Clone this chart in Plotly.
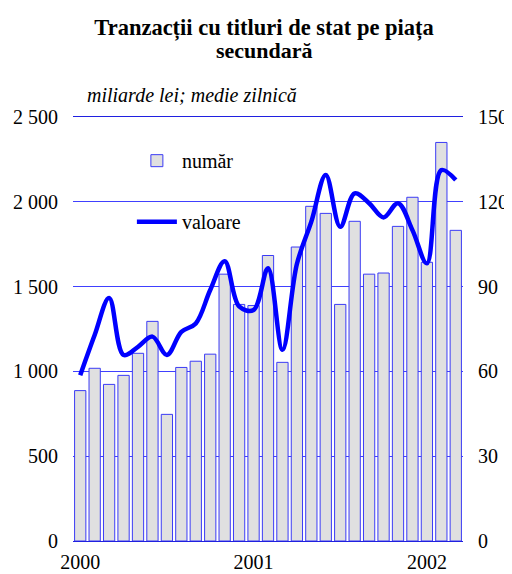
import plotly.graph_objects as go

# luni: ian 2000 - mar 2002
months = [
    "2000-01", "2000-02", "2000-03", "2000-04", "2000-05", "2000-06",
    "2000-07", "2000-08", "2000-09", "2000-10", "2000-11", "2000-12",
    "2001-01", "2001-02", "2001-03", "2001-04", "2001-05", "2001-06",
    "2001-07", "2001-08", "2001-09", "2001-10", "2001-11", "2001-12",
    "2002-01", "2002-02", "2002-03",
]

# numar tranzactii (axa dreapta)
numar = [
    53.2, 61.1, 55.4, 58.6, 66.4, 77.7, 44.8, 61.4, 63.6, 66.1, 94.4, 83.7,
    83.3, 101.0, 63.2, 104.0, 118.4, 115.9, 83.7, 113.1, 94.4, 94.8, 111.3, 121.6,
    98.6, 141.0, 109.9,
]

# valoare, miliarde lei; medie zilnica (axa stanga)
valoare = [
    978, 1215, 1433, 1097, 1145, 1205, 1097, 1233, 1283, 1480, 1650, 1383,
    1362, 1608, 1127, 1633, 1883, 2158, 1853, 2050, 1992, 1908, 1992, 1833,
    1637, 2187, 2128,
]

left_ticks = [0, 500, 1000, 1500, 2000, 2500]
left_labels = ["0", "500", "1 000", "1 500", "2 000", "2 500"]
right_ticks = [0, 30, 60, 90, 120, 150]
year_ticks = ["2000-01", "2001-01", "2002-01"]
year_labels = ["2000", "2001", "2002"]

FONT = "Liberation Serif, Times New Roman, serif"
GRID_BLUE = "#4040ff"

# the page body has an 8px margin, so the figure is 8px smaller
W, H = 504, 566

fig = go.Figure()

fig.add_trace(
    go.Bar(
        x=months,
        y=numar,
        name="număr",
        yaxis="y",
        marker=dict(
            color="#e2e2e2",
            line=dict(color="#3b3bf5", width=1),
            pattern=dict(shape=".", fgcolor="#b4b4b4", bgcolor="#ebebeb", size=2, solidity=0.45),
        ),
        legendgroup="a",
    )
)
fig.add_trace(
    go.Scatter(
        x=months,
        y=valoare,
        name="valoare",
        yaxis="y2",
        mode="lines",
        line=dict(color="#0000ff", width=4.5, shape="spline", smoothing=1),
        legendgroup="b",
    )
)

tick_font = dict(family=FONT, size=20, color="black")

fig.update_layout(
    width=W,
    height=H,
    margin=dict(l=65, r=49, t=109, b=33),
    paper_bgcolor="white",
    plot_bgcolor="white",
    font=dict(family=FONT, size=20, color="black"),
    bargap=0.22,
    showlegend=True,
    title=dict(
        text="<b>Tranzacții cu titluri de stat pe piața</b>",
        font=dict(family=FONT, size=22.5, color="black"),
        xref="paper",
        x=0.49,
        xanchor="center",
        yref="container",
        y=1 - 19 / H,
        yanchor="middle",
    ),
    xaxis=dict(
        type="category",
        range=[-0.5, 26.5],
        tickmode="array",
        tickvals=year_ticks,
        ticktext=year_labels,
        ticks="",
        showgrid=False,
        showline=True,
        mirror=True,
        linecolor="#2020e0",
        linewidth=1,
        ticklabelstandoff=3,
        tickfont=tick_font,
        automargin=False,
    ),
    yaxis=dict(
        side="right",
        range=[0, 150],
        tickmode="array",
        tickvals=right_ticks,
        showgrid=True,
        gridcolor=GRID_BLUE,
        gridwidth=1,
        zeroline=False,
        showline=False,
        ticks="",
        ticklabelstandoff=14,
        tickfont=tick_font,
        automargin=False,
    ),
    yaxis2=dict(
        side="left",
        overlaying="y",
        range=[0, 2500],
        tickmode="array",
        tickvals=left_ticks,
        ticktext=left_labels,
        showgrid=False,
        zeroline=False,
        showline=False,
        ticks="",
        ticklabelstandoff=14,
        tickfont=tick_font,
        automargin=False,
    ),
    legend=dict(
        x=0.151,
        y=0.943,
        xanchor="left",
        yanchor="top",
        bgcolor="rgba(0,0,0,0)",
        font=dict(family=FONT, size=20, color="black"),
        tracegroupgap=32,
        traceorder="grouped",
        itemwidth=40,
    ),
    shapes=[
        dict(
            type="rect",
            xref="paper",
            yref="paper",
            x0=0.0795,
            x1=0.482,
            y0=0.72,
            y1=0.94,
            fillcolor="white",
            line=dict(width=0),
            layer="between",
        )
    ],
    annotations=[
        dict(
            text="<b>secundară</b>",
            xref="paper",
            yref="paper",
            x=0.49,
            y=(541 - 51) / 424,
            xanchor="center",
            yanchor="middle",
            showarrow=False,
            font=dict(family=FONT, size=22, color="black"),
        ),
        dict(
            text="<i>miliarde lei; medie zilnică</i>",
            xref="paper",
            yref="paper",
            x=0.031,
            y=(541 - 95) / 424,
            xanchor="left",
            yanchor="middle",
            showarrow=False,
            font=dict(family=FONT, size=20, color="black"),
        ),
    ],
)

fig.write_html("out.html")
